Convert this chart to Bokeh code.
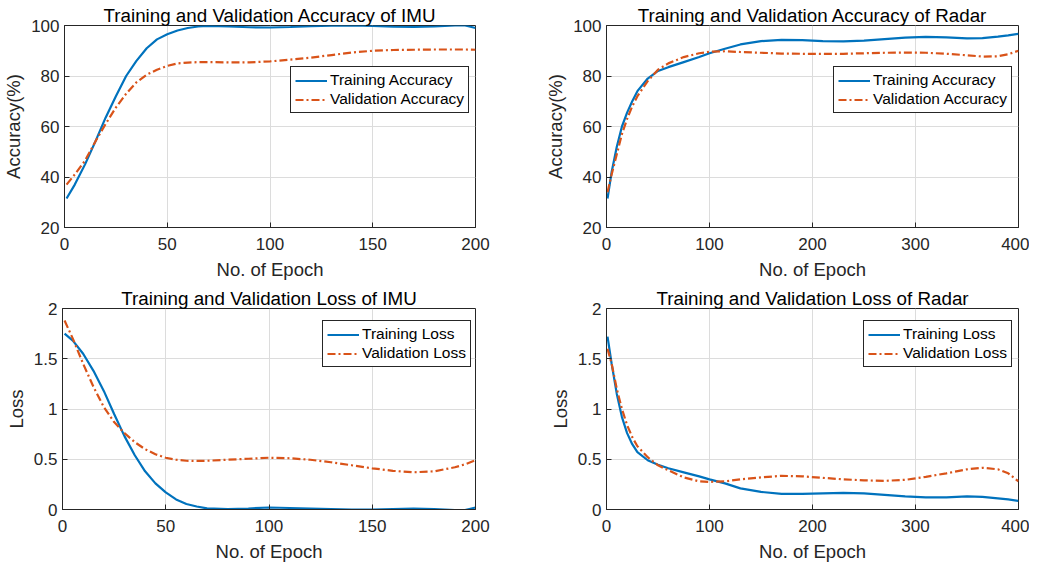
from bokeh.plotting import figure
from bokeh.layouts import column, row
from bokeh.models import Legend, LegendItem, Range1d, FixedTicker
from bokeh.embed import file_html
from bokeh.resources import INLINE

# ---------------- data ----------------
imu_acc_epoch = [1, 5, 10, 15, 20, 25, 30, 35, 40, 45, 50, 55, 60, 65, 70, 80, 90, 100, 110, 120, 130, 140, 150, 160, 170, 180, 190, 195, 200]
imu_train_acc = [31.5, 37, 45, 54, 63.5, 72, 80, 86, 91, 94.5, 96.5, 98, 99, 99.6, 99.8, 99.6, 99.3, 99.2, 99.4, 99.7, 99.9, 100, 99.8, 99.5, 99.4, 99.6, 100, 100, 99]
imu_val_acc = [37, 41, 46.5, 54, 61, 67.5, 73, 77.5, 80.5, 82.5, 84, 85, 85.3, 85.5, 85.5, 85.4, 85.4, 85.8, 86.5, 87.3, 88.3, 89.3, 90, 90.3, 90.4, 90.5, 90.5, 90.5, 90.4]

radar_epoch = [1, 5, 10, 15, 20, 25, 30, 40, 50, 60, 75, 90, 100, 115, 130, 150, 170, 190, 210, 230, 250, 270, 290, 310, 330, 350, 365, 380, 390, 400]
radar_train_acc = [31.5, 42, 52, 60, 65.5, 70, 74, 79, 82, 83.5, 85.5, 87.5, 89, 90.8, 92.5, 93.8, 94.3, 94.2, 93.8, 93.7, 94, 94.6, 95.2, 95.5, 95.3, 94.9, 95, 95.6, 96.1, 96.7]
radar_val_acc = [34, 41, 49, 57, 63, 68, 72, 78, 82.5, 85, 87.5, 89, 89.6, 89.8, 89.5, 89.2, 88.9, 88.8, 88.8, 88.8, 89, 89.2, 89.3, 89.2, 88.8, 88.2, 87.7, 87.8, 88.6, 90]

imu_loss_epoch = [1, 5, 10, 15, 20, 25, 30, 35, 40, 45, 50, 55, 60, 65, 70, 80, 90, 100, 110, 120, 130, 140, 150, 160, 170, 180, 190, 195, 200]
imu_train_loss = [1.75, 1.68, 1.55, 1.38, 1.18, 0.95, 0.73, 0.54, 0.38, 0.26, 0.17, 0.10, 0.055, 0.03, 0.012, 0.005, 0.01, 0.02, 0.015, 0.01, 0.005, 0.0, 0.0, 0.005, 0.01, 0.005, -0.005, -0.005, 0.02]
imu_val_loss = [1.88, 1.7, 1.45, 1.22, 1.02, 0.87, 0.76, 0.67, 0.6, 0.55, 0.515, 0.495, 0.485, 0.483, 0.485, 0.495, 0.505, 0.515, 0.51, 0.495, 0.47, 0.44, 0.41, 0.385, 0.37, 0.38, 0.42, 0.45, 0.49]

radar_train_loss = [1.72, 1.45, 1.15, 0.92, 0.76, 0.65, 0.57, 0.49, 0.445, 0.41, 0.37, 0.33, 0.3, 0.26, 0.21, 0.175, 0.155, 0.155, 0.16, 0.165, 0.16, 0.145, 0.13, 0.12, 0.12, 0.13, 0.125, 0.11, 0.1, 0.085]
radar_val_loss = [1.6, 1.45, 1.2, 1.0, 0.84, 0.72, 0.63, 0.52, 0.44, 0.39, 0.32, 0.28, 0.275, 0.28, 0.3, 0.32, 0.335, 0.33, 0.315, 0.3, 0.29, 0.285, 0.295, 0.325, 0.36, 0.4, 0.415, 0.4, 0.36, 0.28]

acc_ticks = [20, 40, 60, 80, 100]
loss_ticks = [0, 0.5, 1, 1.5, 2]
loss_tick_labels = ["0", "0.5", "1", "1.5", "2"]
imu_xticks = [0, 50, 100, 150, 200]
radar_xticks = [0, 100, 200, 300, 400]

BLUE = "#0072BD"
ORANGE = "#D95319"
FONT = "Liberation Sans"
DARK = "#262626"


def make(title, xr, yr, xt, yt, ylabel, x, y1, y2, labels, leg_xy, width, bl, br, height, bt, bb, ylabels=None):
    p = figure(width=width, height=height, output_backend="svg", toolbar_location=None,
               x_range=Range1d(*xr), y_range=Range1d(*yr),
               min_border_left=bl, min_border_right=br, min_border_top=bt, min_border_bottom=bb)
    p.title.text = title
    p.title.align = "center"
    p.title.text_font = FONT
    p.title.text_font_size = "18.8px"
    p.title.text_font_style = "normal"
    p.title.text_color = "#000000"
    p.title.standoff = 0
    p.title.offset = 0
    p.outline_line_color = DARK
    p.outline_line_alpha = 1
    p.outline_line_width = 1
    p.background_fill_color = "white"
    p.border_fill_color = "white"
    for ax in (p.xaxis[0], p.yaxis[0]):
        ax.axis_line_color = DARK
        ax.major_tick_in = 5
        ax.major_tick_out = 0
        ax.minor_tick_line_color = None
        ax.major_tick_line_color = DARK
        ax.major_label_text_font = FONT
        ax.major_label_text_font_size = "17px"
        ax.major_label_text_color = DARK
        ax.axis_label_text_font = FONT
        ax.axis_label_text_font_size = "18.5px"
        ax.axis_label_text_font_style = "normal"
        ax.axis_label_text_color = DARK
    p.xaxis[0].ticker = FixedTicker(ticks=xt)
    p.yaxis[0].ticker = FixedTicker(ticks=yt)
    if ylabels is not None:
        p.yaxis[0].major_label_overrides = {float(t): s for t, s in zip(yt, ylabels)}
    p.xaxis[0].axis_label = "No. of Epoch"
    p.yaxis[0].axis_label = ylabel
    p.xaxis[0].axis_label_standoff = 6
    p.yaxis[0].axis_label_standoff = 4
    p.xaxis[0].major_label_standoff = 10
    p.yaxis[0].major_label_standoff = 5
    p.xgrid.grid_line_color = "#dcdcdc"
    p.ygrid.grid_line_color = "#dcdcdc"
    p.xgrid.grid_line_width = 1
    p.ygrid.grid_line_width = 1

    r1 = p.line(x, y1, line_color=BLUE, line_width=2.2)
    r2 = p.line(x, y2, line_color=ORANGE, line_width=2.2, line_dash="8 3 2 3")
    leg = Legend(items=[LegendItem(label=labels[0], renderers=[r1]),
                        LegendItem(label=labels[1], renderers=[r2])],
                 location=leg_xy)
    leg.border_line_color = DARK
    leg.border_line_width = 1
    leg.border_line_alpha = 1
    leg.background_fill_color = "white"
    leg.background_fill_alpha = 1
    leg.label_text_font = FONT
    leg.label_text_font_size = "15.5px"
    leg.label_text_color = "#000000"
    leg.glyph_width = 32
    leg.glyph_height = 17
    leg.label_height = 17
    leg.label_standoff = 3
    leg.padding = 4
    leg.spacing = 1
    leg.margin = 0
    p.add_layout(leg, "center")
    return p


TOP_H, BOT_H = 283, 281
LW, RW = 540, 489
p1 = make("Training and Validation Accuracy of IMU", (0, 200), (20, 100), imu_xticks, acc_ticks,
          "Accuracy(%)", imu_acc_epoch, imu_train_acc, imu_val_acc,
          ["Training Accuracy", "Validation Accuracy"], (226, 114),
          LW, 62, 65, TOP_H, 25, 56)
p2 = make("Training and Validation Accuracy of Radar", (0, 400), (20, 100), radar_xticks, acc_ticks,
          "Accuracy(%)", radar_epoch, radar_train_acc, radar_val_acc,
          ["Training Accuracy", "Validation Accuracy"], (227, 114),
          RW, 66, 11, TOP_H, 25, 56)
p3 = make("Training and Validation Loss of IMU", (0, 200), (0, 2), imu_xticks, loss_ticks,
          "Loss", imu_loss_epoch, imu_train_loss, imu_val_loss,
          ["Training Loss", "Validation Loss"], (260, 142),
          LW, 62, 65, BOT_H, 25, 54, loss_tick_labels)
p4 = make("Training and Validation Loss of Radar", (0, 400), (0, 2), radar_xticks, loss_ticks,
          "Loss", radar_epoch, radar_train_loss, radar_val_loss,
          ["Training Loss", "Validation Loss"], (257, 142),
          RW, 66, 11, BOT_H, 25, 54, loss_tick_labels)

layout = column(row(p1, p2), row(p3, p4))
open("out.html", "w").write(file_html(layout, INLINE))
